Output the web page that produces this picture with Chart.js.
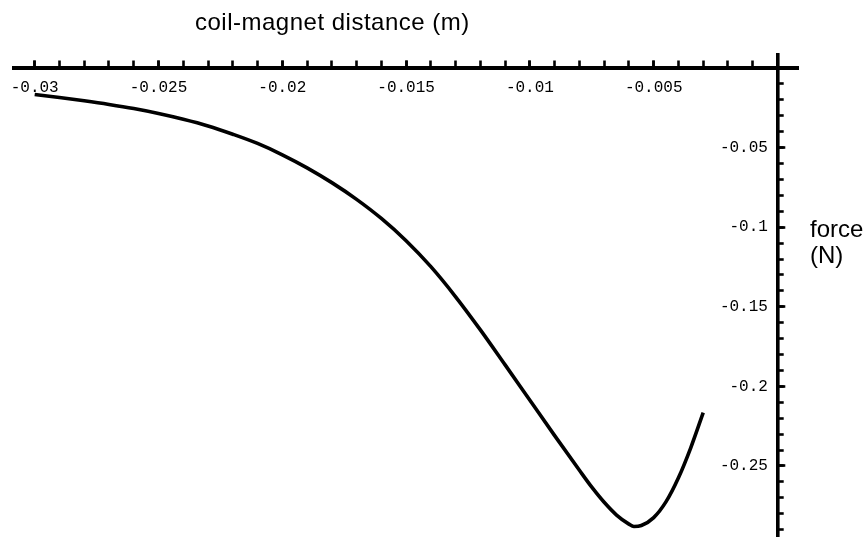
<!DOCTYPE html>
<html>
<head>
<meta charset="utf-8">
<script src="https://cdn.jsdelivr.net/npm/chart.js@4.4.1/dist/chart.umd.min.js"></script>
<style>
  html, body { margin: 0; padding: 0; background: #fff; }
  #wrap { position: relative; width: 865px; height: 538px; }
  #grafica { position: absolute; left: 0; top: 0; }
  .etiqueta { position: absolute; font-family: "Liberation Sans", Arial, sans-serif; font-size: 24px; color: #000; white-space: nowrap; }
  #tituloX { left: 195px; top: 10px; line-height: 24px; letter-spacing: 0.5px; }
  #tituloY { left: 810px; top: 216px; line-height: 26px; }
</style>
</head>
<body>
<div id="wrap">
  <canvas id="grafica" width="865" height="538"></canvas>
  <div class="etiqueta" id="tituloX">coil-magnet distance (m)</div>
  <div class="etiqueta" id="tituloY">force<br>(N)</div>
</div>
<script>
// ======= DATOS =======
const distancia = [-0.030, -0.029, -0.028, -0.027, -0.026, -0.025, -0.024, -0.023, -0.022, -0.021,
  -0.020, -0.019, -0.018, -0.017, -0.016, -0.015, -0.014, -0.013, -0.012, -0.011,
  -0.010, -0.009, -0.008, -0.0075, -0.007, -0.0065, -0.006, -0.0058, -0.0055, -0.005, -0.0045,
  -0.004, -0.0035, -0.003];
const fuerza = [-0.0166, -0.0185, -0.0206, -0.0229, -0.0255, -0.0286, -0.0322, -0.0364, -0.0416, -0.0474,
  -0.0545, -0.0627, -0.0720, -0.0825, -0.0945, -0.1085, -0.1248, -0.1437, -0.1645, -0.1865,
  -0.2087, -0.2309, -0.2527, -0.2633, -0.2728, -0.2808, -0.2865, -0.2880, -0.2874, -0.2824, -0.2724,
  -0.2574, -0.2384, -0.2165];

// rango y pasos de las marcas
const rangoX = [-0.030836, 0.000828];
const rangoY = [-0.29397, 0.008166];
const pasoX = [0.005, 0.001];
const pasoY = [0.05, 0.01];

const fuenteMarcas = { family: "'Liberation Mono', 'Courier New', monospace", size: 16 };

// los ejes cruzados no ocupan espacio en el layout
function sinEspacio(scale) {
  if (scale.isHorizontal()) scale.height = 0; else scale.width = 0;
  scale.paddingLeft = scale.paddingRight = scale.paddingTop = scale.paddingBottom = 0;
}
function soloMultiplos(paso) {
  return scale => {
    scale.ticks = scale.ticks.filter(t => Math.abs(t.value / paso - Math.round(t.value / paso)) < 1e-6);
  };
}
function etiqueta(v) {
  return Math.abs(v) < 1e-9 ? "" : String(+v.toFixed(4));
}

function ejeX(paso, largo, conTexto) {
  return {
    type: "linear", min: rangoX[0], max: rangoX[1], position: { y: 0 },
    afterFit: sinEspacio, afterBuildTicks: soloMultiplos(paso),
    border: { display: conTexto, width: 4, color: "#000" },
    grid: { drawOnChartArea: false, drawTicks: true, tickLength: -largo, tickWidth: 2.6, tickColor: "#000" },
    ticks: {
      display: conTexto, stepSize: paso, includeBounds: false, autoSkip: false, maxRotation: 0,
      padding: 20, color: "#000", font: fuenteMarcas, callback: v => etiqueta(v)
    }
  };
}
function ejeY(paso, largo, conTexto) {
  return {
    type: "linear", min: rangoY[0], max: rangoY[1], position: { x: 0 },
    afterFit: sinEspacio, afterBuildTicks: soloMultiplos(paso),
    border: { display: conTexto, width: 3.6, color: "#000" },
    grid: { drawOnChartArea: false, drawTicks: true, tickLength: -largo, tickWidth: 2.6, tickColor: "#000" },
    ticks: {
      display: conTexto, stepSize: paso, includeBounds: false, autoSkip: false,
      color: "#000", font: fuenteMarcas, callback: v => { const t = etiqueta(v); return t ? t + " " : ""; }
    }
  };
}

// ======= GRAFICA =======
new Chart(document.getElementById("grafica").getContext("2d"), {
  type: "scatter",
  data: {
    datasets: [{
      data: distancia.map((d, i) => ({ x: d, y: fuerza[i] })),
      showLine: true,
      borderColor: "#000",
      borderWidth: 3.6,
      pointRadius: 0,
      cubicInterpolationMode: "monotone",
      fill: false
    }]
  },
  options: {
    responsive: false,
    animation: false,
    devicePixelRatio: 1,
    layout: { padding: { left: 14, right: 67, top: 55, bottom: 2 } },
    plugins: { legend: { display: false }, tooltip: { enabled: false }, title: { display: false } },
    scales: {
      x: ejeX(pasoX[0], 9.5, true),
      xm: Object.assign(ejeX(pasoX[1], 7.5, false), { axis: "x" }),
      y: ejeY(pasoY[0], 9.3, true),
      ym: Object.assign(ejeY(pasoY[1], 6.7, false), { axis: "y" })
    }
  }
});
</script>
</body>
</html>
